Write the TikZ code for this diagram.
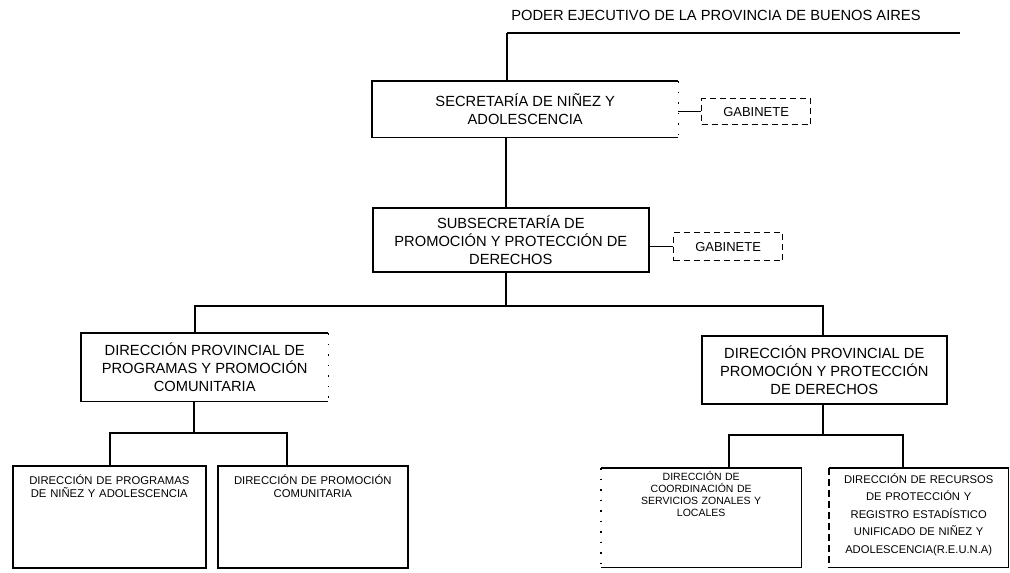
\documentclass[tikz,border=0pt]{standalone}
\usepackage{fontspec}
\setmainfont{Liberation Sans}
\begin{document}
\begin{tikzpicture}[x=1pt,y=-1pt,
  ln/.style={line width=1.6pt},
  dotln/.style={line width=1.6pt, dash pattern=on 1.5pt off 9pt},
  dashln/.style={line width=1.6pt, dash pattern=on 7pt off 4pt},
  box/.style={draw, line width=1.6pt, rectangle, inner sep=0pt, align=center, anchor=north west},
  openbox/.style={rectangle, inner sep=0pt, align=center, anchor=north west},
  gab/.style={draw, line width=1.3pt, dash pattern=on 6pt off 4pt, rectangle, inner sep=0pt, anchor=north west, font=\fontsize{13}{15}\selectfont},
  big/.style={font=\fontsize{14.7}{18}\selectfont},
  small/.style={font=\fontsize{11.3}{12.5}\selectfont},
  tiny/.style={font=\fontsize{10.5}{12.2}\selectfont},
  mid/.style={font=\fontsize{11.2}{17.5}\selectfont}
]
\useasboundingbox (0,0) rectangle (1010,573);

% title
\node[big, inner sep=0pt] (poder) at (716,15) {PODER EJECUTIVO DE LA PROVINCIA DE BUENOS AIRES};
\coordinate (tl) at (507,33);
\coordinate (tr) at (960,33);
\draw[ln] (tl) -- (tr);

% secretaria
\node[openbox, big, minimum width=306pt, minimum height=56pt] (sec) at (372,81) {SECRETARÍA DE NIÑEZ Y\\ADOLESCENCIA};
\draw[ln] (sec.north east) -- (sec.north west) -- (sec.south west) -- (sec.south east);
\draw[dotln] (sec.north east) -- (sec.south east);
\draw[ln] (tl) -- (tl |- sec.north);

\node[gab, minimum width=109pt, minimum height=26pt] (gab1) at (701,98) {GABINETE};
\draw[ln] (gab1.west -| sec.east) -- (gab1.west);

% subsecretaria
\node[box, big, minimum width=276pt, minimum height=64pt] (sub) at (372,207) {SUBSECRETARÍA DE\\PROMOCIÓN Y PROTECCIÓN DE\\DERECHOS};
\coordinate (c1) at (506,150);
\draw[ln] (c1 |- sec.south) -- (c1 |- sub.north);

\node[gab, minimum width=109pt, minimum height=28pt] (gab2) at (673,232) {GABINETE};
\draw[ln] (gab2.west -| sub.east) -- (gab2.west);

% direcciones provinciales
\node[openbox, big, minimum width=247pt, minimum height=68pt] (dpl) at (81,333) {DIRECCIÓN PROVINCIAL DE\\PROGRAMAS Y PROMOCIÓN\\COMUNITARIA};
\draw[ln] (dpl.north east) -- (dpl.north west) -- (dpl.south west) -- (dpl.south east);
\draw[dotln] (dpl.north east) -- (dpl.south east);

\node[box, big, minimum width=245pt, minimum height=68pt] (dpr) at (701,335) {DIRECCIÓN PROVINCIAL DE\\PROMOCIÓN Y PROTECCIÓN\\DE DERECHOS};

\coordinate (h1) at (506,306);
\coordinate (h1l) at (195,306);
\coordinate (h1r) at (823,306);
\draw[ln] (h1 |- sub.south) -- (h1);
\draw[ln] (h1l |- dpl.north) -- (h1l) -- (h1r) -- (h1r |- dpr.north);

% bottom left
\node[box, small, text width=193pt, text height=19pt, text depth=83pt] (b1) at (12,465) {DIRECCIÓN DE PROGRAMAS\\DE NIÑEZ Y ADOLESCENCIA};
\node[box, small, text width=190pt, text height=19pt, text depth=83pt] (b2) at (217,465) {DIRECCIÓN DE PROMOCIÓN\\COMUNITARIA};
\coordinate (h2) at (194,433);
\coordinate (h2l) at (110,433);
\coordinate (h2r) at (287,433);
\draw[ln] (h2 |- dpl.south) -- (h2);
\draw[ln] (h2l |- b1.north) -- (h2l) -- (h2r) -- (h2r |- b2.north);

% bottom right
\node[openbox, tiny, text width=200pt, text height=12pt, text depth=87pt] (b3) at (601,468) {DIRECCIÓN DE\\COORDINACIÓN DE\\SERVICIOS ZONALES Y\\LOCALES};
\draw[ln] (b3.north west) -- (b3.north east) -- (b3.south east) -- (b3.south west);
\draw[dotln] (b3.north west) -- (b3.south west);
\node[openbox, mid, text width=179pt, text height=15pt, text depth=84pt] (b4) at (829,468) {DIRECCIÓN DE RECURSOS\\DE PROTECCIÓN Y\\REGISTRO ESTADÍSTICO\\UNIFICADO DE NIÑEZ Y\\ADOLESCENCIA(R.E.U.N.A)};
\draw[ln] (b4.north west) -- (b4.north east) -- (b4.south east) -- (b4.south west);
\draw[dashln] (b4.north west) -- (b4.south west);
\coordinate (h3) at (823,435);
\coordinate (h3l) at (729,435);
\coordinate (h3r) at (903,435);
\draw[ln] (h3 |- dpr.south) -- (h3);
\draw[ln] (h3l |- b3.north) -- (h3l) -- (h3r) -- (h3r |- b4.north);
\end{tikzpicture}
\end{document}
